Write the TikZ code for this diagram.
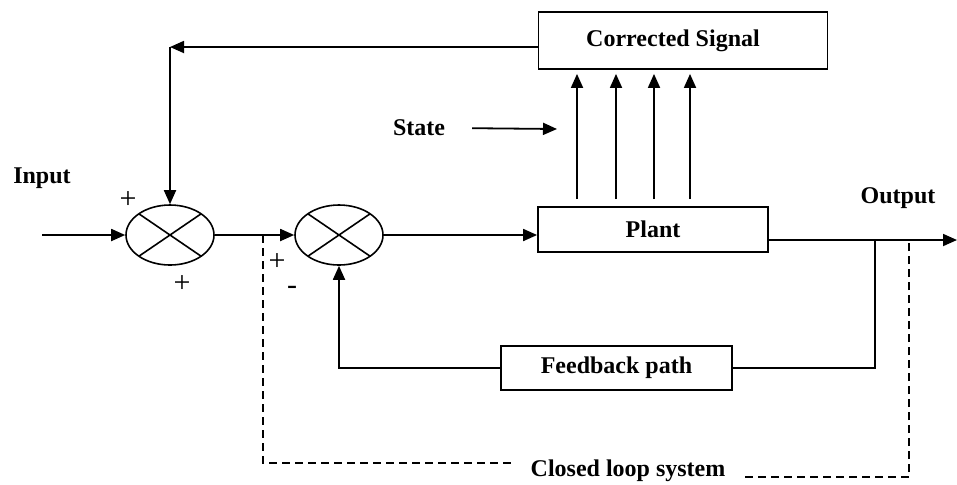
\documentclass[tikz,border=0pt]{standalone}
\usepackage{fontspec}
\setmainfont{Liberation Serif}
\usetikzlibrary{shapes.geometric,arrows.meta}

\tikzset{
  blk/.style={draw, line width=0.9pt, inner sep=0pt, font=\fontsize{12}{14}\selectfont\bfseries},
  summ/.style={shape=ellipse, draw, line width=0.8pt, minimum width=44pt, minimum height=30pt, inner sep=0pt,
    path picture={\draw[line width=0.8pt] (path picture bounding box.north west) -- (path picture bounding box.south east)
      (path picture bounding box.north east) -- (path picture bounding box.south west);}},
  lbl/.style={font=\fontsize{12}{14}\selectfont\bfseries},
  sgn/.style={font=\fontsize{15}{18}\selectfont},
  arr/.style={-{Triangle[length=7pt,width=6pt]}, line width=0.9pt},
  ln/.style={line width=0.9pt},
  loopline/.style={dash pattern=on 4pt off 2.5pt, line width=0.8pt}
}

\begin{document}
\begin{tikzpicture}[x=0.5pt,y=-0.5pt]
                        \useasboundingbox (0,0) rectangle (957,484);
                        \node[blk, minimum width=144.5pt, minimum height=28.5pt] (corr) at (683,40.5) {\hspace*{-10pt}Corrected Signal};
                        \node[blk, minimum width=115pt, minimum height=22.5pt] (plant) at (653,229.5) {Plant};
                        \node[blk, minimum width=115.5pt, minimum height=22pt] (fb) at (616.5,368) {Feedback path};
                        \node[summ] (s1) at (170,235) {};
                        \node[summ] (s2) at (339,235) {};

                        \node[lbl] (inlbl) at (42,178) {Input};
                        \node[lbl] (outlbl) at (898,198) {Output};
                        \node[lbl] (statelbl) at (419,128) {State};
                        \node[lbl] (cls) at (628,471) {Closed loop system};
                        \node[sgn] (p1) at (128,200) {+};
                        \node[sgn] (p2) at (182,284) {+};
                        \node[sgn] (p3) at (277,262) {+};
                        \node[sgn] (m1) at (292,290) {-};

                        \coordinate (inp) at (42,235);
                        \coordinate (corner) at (170,47);
                        \coordinate (tap) at (263,235);
                        \coordinate (out) at (957,240);
                        \coordinate (fbtap) at (875,240);
                        \coordinate (cltap) at (909,240);
                        \coordinate (st) at (557,129);
                        \coordinate (clL) at (512,463);
                        \coordinate (clR) at (745,477);

                        \draw[arr] (inp) -- (s1.west);
                        \draw[arr] (s1.east) -- (s2.west);
                        \draw[arr] (s2.east) -- (s2.east -| plant.west);
                        \draw[arr] (plant.east |- out) -- (out);
                        \draw[arr] (corr.west |- corner) -- (corner);
                        \draw[arr] (corner) -- (s1.north);
                        \draw[arr, shorten <=10pt] (statelbl.east) -- (st);
                        \foreach \x in {577,616,654,690}
                        \draw[arr, shorten <=3.5pt, shorten >=2pt] (plant.north -| \x,0) -- (corr.south -| \x,0);
                        \draw[ln] (fbtap) |- (fb.east);
                        \draw[arr] (fb.west) -| (s2.south);
                        \draw[loopline] (tap) |- (clL);
                        \draw[loopline] (clR) -| (cltap);
                    \end{tikzpicture}
\end{document}
